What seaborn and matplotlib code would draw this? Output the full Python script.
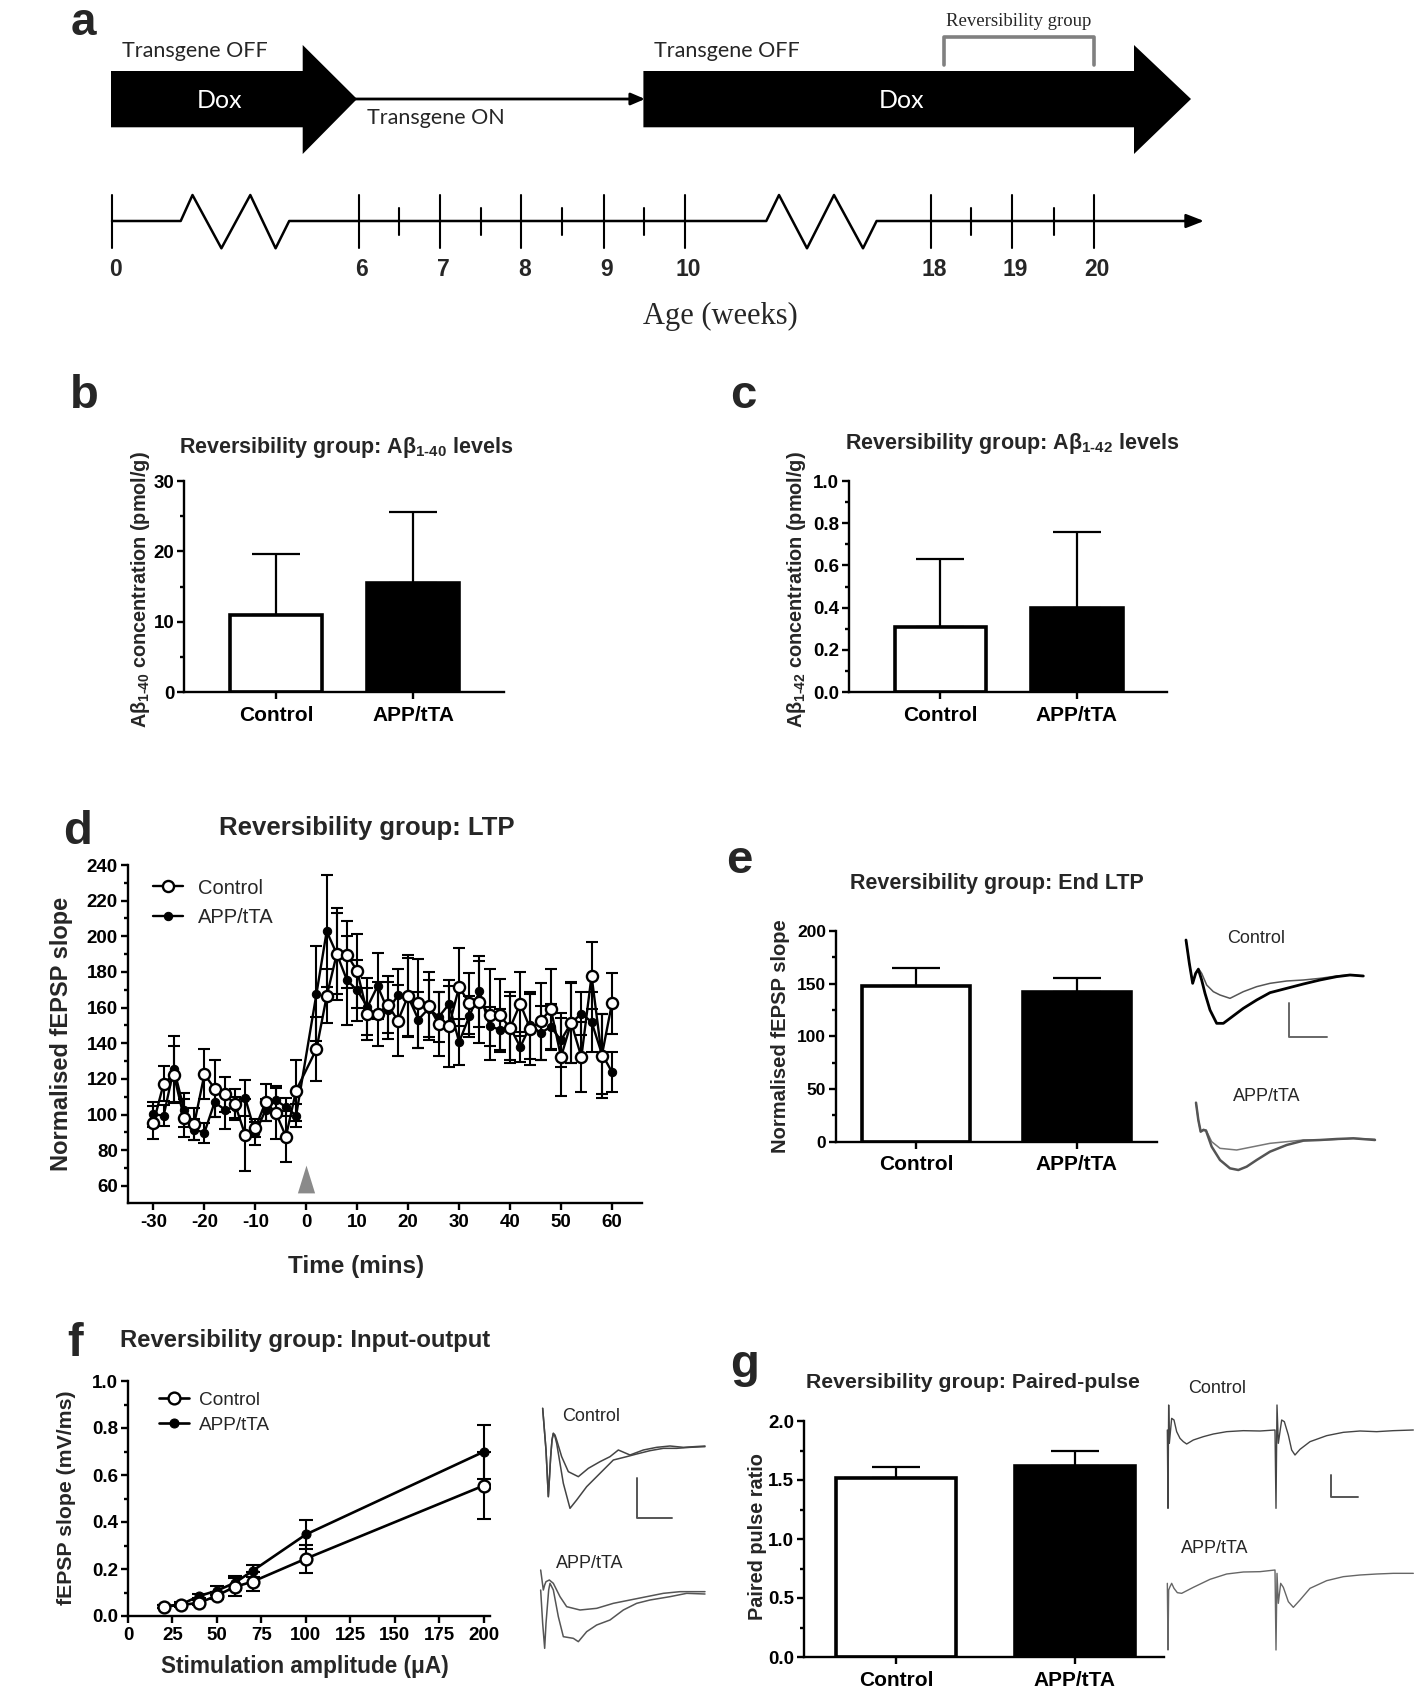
import matplotlib
matplotlib.use("Agg")
import matplotlib.pyplot as plt
import seaborn as sns
from matplotlib.patches import Polygon
from matplotlib.ticker import MultipleLocator, FormatStrFormatter

# ---------------- data ----------------
groups = ["Control", "APP/tTA"]

ab40_mean = [11.0, 15.5]
ab40_sem = [8.6, 10.1]

ab42_mean = [0.31, 0.40]
ab42_sem = [0.32, 0.36]

end_ltp_mean = [147.5, 142.2]
end_ltp_sem = [17.5, 12.9]

ppr_mean = [1.52, 1.62]
ppr_sem = [0.09, 0.13]

ltp_time = [-30, -28, -26, -24, -22, -20, -18, -16, -14, -12, -10, -8, -6, -4, -2,
            2, 4, 6, 8, 10, 12, 14, 16, 18, 20, 22, 24, 26, 28, 30,
            32, 34, 36, 38, 40, 42, 44, 46, 48, 50, 52, 54, 56, 58, 60]
ltp_ctrl = [95.5, 117.4, 122.4, 98.0, 94.8, 122.6, 114.6, 111.4, 105.8, 88.6, 92.5, 106.9, 101.1, 87.7, 113.5,
            136.8, 166.4, 190.3, 189.7, 180.4, 156.4, 156.3, 161.5, 152.7, 166.7, 162.4, 161.1, 150.8, 149.5, 171.6,
            162.4, 163.2, 156.1, 155.7, 148.6, 162.2, 147.9, 152.3, 159.3, 132.3, 151.6, 132.3, 177.9, 132.9, 162.4]
ltp_ctrl_sem = [9.3, 10.0, 16.0, 10.7, 9.0, 14.0, 16.0, 9.7, 8.6, 20.0, 5.0, 10.5, 15.0, 14.4, 17.0,
                18.0, 15.0, 22.6, 18.7, 20.7, 14.8, 18.0, 16.0, 20.0, 23.0, 25.0, 19.0, 18.0, 22.8, 21.9,
                17.0, 23.0, 25.6, 20.6, 18.0, 18.0, 20.0, 21.5, 22.6, 22.0, 22.8, 19.6, 18.9, 23.4, 17.0]
ltp_app = [100.2, 99.4, 125.8, 102.8, 91.6, 89.9, 106.9, 102.8, 104.0, 109.3, 89.5, 102.6, 108.0, 104.3, 99.4,
           167.9, 202.8, 190.0, 175.3, 169.7, 160.4, 172.1, 158.5, 166.9, 166.0, 153.3, 159.4, 154.8, 161.9, 140.7,
           155.1, 169.2, 149.5, 147.7, 149.0, 137.9, 150.0, 145.8, 149.2, 141.7, 151.4, 156.6, 152.0, 134.2, 123.9]
ltp_app_sem = [7.0, 6.0, 18.5, 9.5, 6.0, 5.6, 8.0, 10.7, 6.0, 10.0, 6.5, 6.0, 7.0, 5.0, 6.4,
               26.5, 31.4, 26.0, 25.0, 17.0, 16.0, 18.7, 16.0, 15.0, 22.0, 15.7, 16.0, 14.0, 13.5, 13.0,
               11.6, 20.0, 11.0, 11.6, 20.0, 8.4, 18.7, 15.0, 12.7, 15.0, 22.4, 12.0, 16.8, 22.4, 11.2]

io_amp = [20, 30, 40, 50, 60, 70, 100, 200]
io_ctrl = [0.04, 0.047, 0.056, 0.087, 0.124, 0.146, 0.244, 0.555]
io_ctrl_sem = [0.008, 0.008, 0.01, 0.015, 0.038, 0.04, 0.06, 0.144]
io_app = [0.04, 0.05, 0.085, 0.108, 0.141, 0.192, 0.347, 0.699]
io_app_sem = [0.006, 0.008, 0.01, 0.02, 0.03, 0.024, 0.06, 0.115]

# timeline (panel a)
age_weeks = ["0", "6", "7", "8", "9", "10", "18", "19", "20"]

# example traces (time, amplitude in picture units)
e_ctrl_base = [(48, 60), (58, 130), (68, 190), (77, 160), (85, 145), (95, 160), (110, 195), (130, 215), (150, 225),
               (180, 235), (220, 215), (260, 200), (300, 190), (350, 183), (400, 180), (450, 175), (500, 168),
               (540, 165), (580, 168)]
e_ctrl_ltp = [(48, 60), (58, 130), (68, 190), (77, 160), (85, 148), (95, 180), (105, 220), (120, 270), (140, 310),
              (160, 310), (180, 295), (220, 265), (260, 240), (300, 218), (350, 205), (400, 192), (450, 180),
              (500, 170), (540, 165), (580, 168)]
e_app_base = [(78, 548), (85, 600), (92, 635), (100, 628), (108, 630), (125, 665), (150, 685), (200, 690),
              (250, 680), (300, 670), (350, 665), (400, 660), (450, 660), (500, 658), (550, 655), (615, 658)]
e_app_ltp = [(78, 548), (85, 600), (92, 635), (100, 630), (108, 632), (125, 680), (150, 720), (180, 745),
             (205, 750), (230, 740), (260, 720), (300, 695), (350, 675), (400, 662), (450, 660), (500, 657),
             (550, 655), (615, 660)]

f_ctrl_low = [(38, 55), (44, 130), (48, 180), (52, 260), (55, 320), (58, 270), (62, 200), (66, 150), (70, 130),
              (75, 135), (80, 150), (95, 200), (115, 245), (145, 260), (175, 235), (210, 215), (240, 200),
              (265, 180), (300, 195), (340, 180), (380, 172), (420, 168), (460, 172), (525, 168)]
f_ctrl_high = [(38, 55), (44, 130), (48, 180), (52, 260), (55, 320), (58, 270), (62, 200), (66, 150), (70, 130),
               (75, 140), (80, 160), (90, 220), (100, 280), (120, 355), (140, 330), (170, 290), (210, 250),
               (250, 210), (290, 200), (320, 192), (360, 182), (400, 175), (440, 175), (480, 172), (525, 170)]
f_app_low = [(32, 540), (36, 570), (40, 600), (44, 585), (48, 575), (58, 570), (70, 580), (90, 620), (110, 650),
             (150, 660), (200, 655), (250, 640), (300, 630), (350, 620), (400, 610), (450, 605), (525, 605)]
f_app_high = [(32, 600), (38, 700), (44, 775), (48, 700), (52, 650), (56, 600), (60, 580), (70, 600), (85, 680),
              (100, 740), (130, 745), (145, 755), (170, 725), (200, 705), (240, 690), (280, 660), (320, 640),
              (360, 630), (420, 620), (470, 610), (525, 612)]

g_ctrl = [(22, 180), (24, 415), (26, 105), (28, 220), (35, 145), (42, 150), (50, 185), (60, 205), (70, 215),
          (80, 222), (100, 210), (130, 200), (160, 192), (200, 185), (250, 182), (300, 183), (345, 180),
          (348, 415), (351, 105), (355, 220), (365, 150), (373, 155), (385, 195), (395, 240), (405, 255),
          (420, 238), (450, 215), (500, 197), (550, 187), (600, 183), (650, 185), (700, 182), (760, 180)]
g_app = [(22, 640), (24, 840), (26, 660), (30, 650), (35, 640), (42, 655), (52, 668), (65, 670), (100, 652),
         (150, 628), (200, 612), (250, 606), (300, 605), (345, 600), (348, 840), (351, 610), (355, 700),
         (362, 640), (370, 652), (385, 695), (400, 712), (420, 690), (450, 655), (500, 632), (550, 620),
         (600, 615), (650, 612), (700, 610), (760, 610)]

# ---------------- style ----------------
sns.set_theme(style="ticks")
plt.rcParams.update({
    "font.family": ["Liberation Sans", "DejaVu Sans"],
    "font.weight": "bold",
    "axes.labelweight": "bold",
    "axes.unicode_minus": False,
    "axes.linewidth": 1.7,
    "xtick.major.width": 1.7, "ytick.major.width": 1.7,
    "ytick.minor.width": 1.7, "xtick.minor.width": 1.7,
    "xtick.major.size": 5, "ytick.major.size": 5, "ytick.minor.size": 3,
    "xtick.major.pad": 3, "ytick.major.pad": 2,
    "xtick.color": "black", "ytick.color": "black",
    "axes.edgecolor": "black",
    "mathtext.fontset": "custom",
    "mathtext.rm": "Liberation Sans:bold",
    "mathtext.bf": "Liberation Sans:bold",
    "mathtext.it": "Liberation Sans",
})

W, H = 1418, 1688
fig = plt.figure(figsize=(W / 100, H / 100), dpi=100)


def add_ax(l, t, r, b):
    return fig.add_axes([l / W, 1 - b / H, (r - l) / W, (b - t) / H])


def ftext(x, y, s, **kw):
    kw.setdefault("ha", "center")
    kw.setdefault("va", "center")
    fig.text(x / W, 1 - y / H, s, **kw)


def style_axis(ax, tick_fs):
    sns.despine(ax=ax)
    ax.tick_params(axis="both", which="both", direction="out", labelsize=tick_fs)
    for lab in ax.get_xticklabels() + ax.get_yticklabels():
        lab.set_fontweight("bold")


def bar_panel(ax, means, sems, ylim, step, minor, fmt, tick_fs, cat_fs, xlim):
    sns.barplot(x=groups, y=means, hue=groups, palette=["white", "black"], saturation=1,
                edgecolor="black", linewidth=2.6, width=0.67, legend=False, ax=ax, zorder=2)
    ax.errorbar([0, 1], means, yerr=[[0, 0], sems], fmt="none", ecolor="black",
                elinewidth=1.6, capsize=17, capthick=1.6, zorder=1)
    ax.set_ylim(*ylim)
    ax.set_xlim(*xlim)
    ax.yaxis.set_major_locator(MultipleLocator(step))
    ax.yaxis.set_minor_locator(MultipleLocator(minor))
    ax.yaxis.set_major_formatter(FormatStrFormatter(fmt))
    ax.set_xlabel("")
    ax.set_ylabel("")
    style_axis(ax, tick_fs)
    ax.tick_params(axis="x", labelsize=cat_fs, pad=5)


# ---------------- panel a: timeline ----------------
axa = add_ax(0, 0, W, 340)
axa.set_xlim(0, W)
axa.set_ylim(340, 0)
axa.axis("off")
for x0, xb, xt in [(111, 302.7, 357), (643.4, 1134, 1191)]:
    axa.add_patch(Polygon([(x0, 71), (xb, 71), (xb, 45), (xt, 99), (xb, 154), (xb, 127.3), (x0, 127.3)],
                          closed=True, fc="black", ec="none"))
axa.annotate("", xy=(645, 99), xytext=(355, 99),
             arrowprops=dict(arrowstyle="-|>,head_length=0.7,head_width=0.3", color="black", lw=2,
                             shrinkA=0, shrinkB=0))
ty = 221
axa.plot([112, 180.7, 192.5, 221.4, 250.3, 275.6, 289.2, 766.3, 779, 807, 834, 863, 876.6, 1190],
         [ty, ty, 195, 248.3, 195, 248.3, ty, ty, 195, 248.3, 195, 248.3, ty, ty], color="black", lw=1.8)
axa.annotate("", xy=(1204, ty), xytext=(1185, ty),
             arrowprops=dict(arrowstyle="-|>,head_length=0.9,head_width=0.35", color="black", lw=1.8,
                             shrinkA=0, shrinkB=0))
major_x = [112, 358.8, 440, 521.4, 603.6, 685, 930.8, 1012, 1094.3]
minor_x = [398.5, 480.8, 562, 644.3, 971.4, 1053.7]
for x in major_x:
    axa.plot([x, x], [195, 248.3], color="black", lw=1.5)
for x in minor_x:
    axa.plot([x, x], [208.3, 235], color="black", lw=1.5)
for x, lab in zip(major_x, age_weeks):
    axa.text(x + 3, 269, lab, ha="center", va="center", fontsize=16.5, fontweight="bold")
axa.text(720, 316, "Age (weeks)", ha="center", va="center", fontsize=22,
         fontfamily="Liberation Serif", fontweight="normal")
axa.text(195, 51, "Transgene OFF", ha="center", va="center", fontsize=15.5, fontfamily="Lato", fontweight="normal")
axa.text(727, 51, "Transgene OFF", ha="center", va="center", fontsize=15.5, fontfamily="Lato", fontweight="normal")
axa.text(436, 118, "Transgene ON", ha="center", va="center", fontsize=15.5, fontfamily="Lato", fontweight="normal")
axa.text(220, 100, "Dox", ha="center", va="center", fontsize=18, fontfamily="Lato", fontweight="normal",
         color="white")
axa.text(902, 100, "Dox", ha="center", va="center", fontsize=18, fontfamily="Lato", fontweight="normal",
         color="white")
axa.plot([944.3, 944.3, 1094.3, 1094.3], [65, 37.3, 37.3, 65], color="#808080", lw=2.6,
         solid_joinstyle="round")
axa.text(1019, 22, "Reversibility group", ha="center", va="center", fontsize=13.5,
         fontfamily="Liberation Serif", fontweight="normal")

# ---------------- panel b ----------------
axb = add_ax(184, 481, 504, 692)
bar_panel(axb, ab40_mean, ab40_sem, (0, 30), 10, 5, "%d", 13.5, 15, (-0.67, 1.66))
ftext(346, 447, r"Reversibility group: A$\beta_{\mathrm{1\text{-}40}}$ levels", fontsize=15.5, fontweight="bold")
ftext(141, 590, r"A$\beta_{\mathrm{1\text{-}40}}$ concentration (pmol/g)", fontsize=14.3, fontweight="bold",
      rotation=90)

# ---------------- panel c ----------------
axc = add_ax(849, 481, 1167, 692)
bar_panel(axc, ab42_mean, ab42_sem, (0, 1.0), 0.2, 0.1, "%.1f", 13.5, 15, (-0.67, 1.66))
ftext(1012, 443, r"Reversibility group: A$\beta_{\mathrm{1\text{-}42}}$ levels", fontsize=15.5, fontweight="bold")
ftext(796, 590, r"A$\beta_{\mathrm{1\text{-}42}}$ concentration (pmol/g)", fontsize=14.3, fontweight="bold",
      rotation=90)

# ---------------- panel d: LTP time course ----------------
axd = add_ax(127.5, 865, 642, 1203)
axd.errorbar(ltp_time, ltp_app, yerr=ltp_app_sem, fmt="none", ecolor="black", elinewidth=1.5,
             capsize=4.5, capthick=1.5, zorder=1)
axd.errorbar(ltp_time, ltp_ctrl, yerr=ltp_ctrl_sem, fmt="none", ecolor="black", elinewidth=1.5,
             capsize=4.5, capthick=1.5, zorder=1)
sns.lineplot(x=ltp_time, y=ltp_app, ax=axd, color="black", lw=1.7, marker="o", markersize=6,
             markerfacecolor="black", markeredgecolor="black", label="APP/tTA", zorder=2)
sns.lineplot(x=ltp_time, y=ltp_ctrl, ax=axd, color="black", lw=1.7, marker="o", markersize=8,
             markerfacecolor="white", markeredgecolor="black", markeredgewidth=1.7, label="Control", zorder=3)
axd.plot([0], [64], marker=[(-0.62, -1), (0.62, -1), (0, 1)], markersize=20, color="#8a8a8a",
         markeredgecolor="none", clip_on=False)
axd.set_xlim(-35.1, 65.9)
axd.set_ylim(50.4, 240)
axd.xaxis.set_major_locator(MultipleLocator(10))
axd.yaxis.set_major_locator(MultipleLocator(20))
axd.yaxis.set_minor_locator(MultipleLocator(10))
axd.set_xlabel("")
axd.set_ylabel("")
style_axis(axd, 13.5)
h, l = axd.get_legend_handles_labels()
axd.legend([h[1], h[0]], [l[1], l[0]], loc="upper left", bbox_to_anchor=(0.05, 0.96), frameon=False,
           borderpad=0, borderaxespad=0, handlelength=1.5, handletextpad=0.7, labelspacing=0.5,
           prop=dict(size=14.5, weight="normal"))
ftext(367, 828, "Reversibility group: LTP", fontsize=18.5, fontweight="bold")
ftext(62, 1034, "Normalised fEPSP slope", fontsize=17, fontweight="bold", rotation=90)
ftext(356, 1267, "Time (mins)", fontsize=17.5, fontweight="bold")

# ---------------- panel e ----------------
axe = add_ax(836, 931, 1157, 1141.5)
bar_panel(axe, end_ltp_mean, end_ltp_sem, (0, 200), 50, 25, "%d", 12.5, 15, (-0.5, 1.5))
ftext(997, 883, "Reversibility group: End LTP", fontsize=15.5, fontweight="bold")
ftext(781, 1036, "Normalised fEPSP slope", fontsize=14.5, fontweight="bold", rotation=90)

axe_tr = add_ax(1170, 920, 1400, 1180)
axe_tr.set_xlim(0, 690)
axe_tr.set_ylim(780, 0)
axe_tr.axis("off")
axe_tr.plot(*zip(*e_ctrl_base), color="#555555", lw=1.1)
axe_tr.plot(*zip(*e_ctrl_ltp), color="black", lw=2.0)
axe_tr.plot(*zip(*e_app_base), color="#777777", lw=1.1)
axe_tr.plot(*zip(*e_app_ltp), color="#555555", lw=1.8)
axe_tr.plot([358, 358, 470], [250, 352, 352], color="#666666", lw=1.4)
axe_tr.text(258, 55, "Control", ha="center", va="center", fontsize=13, fontweight="normal")
axe_tr.text(290, 530, "APP/tTA", ha="center", va="center", fontsize=13, fontweight="normal")

# ---------------- panel f: input-output ----------------
axf = add_ax(128, 1381, 490, 1616)
axf.errorbar(io_amp, io_app, yerr=io_app_sem, fmt="none", ecolor="black", elinewidth=1.5,
             capsize=5, capthick=1.5, zorder=1)
axf.errorbar(io_amp, io_ctrl, yerr=io_ctrl_sem, fmt="none", ecolor="black", elinewidth=1.5,
             capsize=5, capthick=1.5, zorder=1)
sns.lineplot(x=io_amp, y=io_app, ax=axf, color="black", lw=1.9, marker="o", markersize=6.5,
             markerfacecolor="black", markeredgecolor="black", label="APP/tTA", zorder=2)
sns.lineplot(x=io_amp, y=io_ctrl, ax=axf, color="black", lw=1.9, marker="o", markersize=8.5,
             markerfacecolor="white", markeredgecolor="black", markeredgewidth=1.7, label="Control", zorder=3)
axf.set_xlim(0, 203.5)
axf.set_ylim(0, 1.0)
axf.xaxis.set_major_locator(MultipleLocator(25))
axf.yaxis.set_major_locator(MultipleLocator(0.2))
axf.yaxis.set_minor_locator(MultipleLocator(0.1))
axf.yaxis.set_major_formatter(FormatStrFormatter("%.1f"))
axf.set_xlabel("")
axf.set_ylabel("")
style_axis(axf, 13.5)
h, l = axf.get_legend_handles_labels()
axf.legend([h[1], h[0]], [l[1], l[0]], loc="upper left", bbox_to_anchor=(0.085, 0.955), frameon=False,
           borderpad=0, borderaxespad=0, handlelength=1.6, handletextpad=0.5, labelspacing=0.4,
           prop=dict(size=13.7, weight="normal"))
ftext(305, 1340, "Reversibility group: Input-output", fontsize=17.2, fontweight="bold")
ftext(66, 1498, "fEPSP slope (mV/ms)", fontsize=15.3, fontweight="bold", rotation=90)
ftext(305, 1667, "Stimulation amplitude (\u03bcA)", fontsize=16.3, fontweight="bold")

axf_tr = add_ax(530, 1390, 720, 1660)
axf_tr.set_xlim(0, 570)
axf_tr.set_ylim(810, 0)
axf_tr.axis("off")
for tr in (f_ctrl_low, f_ctrl_high):
    axf_tr.plot(*zip(*tr), color="#444444", lw=1.1)
for tr in (f_app_low, f_app_high):
    axf_tr.plot(*zip(*tr), color="#555555", lw=1.1)
axf_tr.plot([320, 320, 425], [265, 383, 383], color="#555555", lw=1.4)
axf_tr.text(183, 80, "Control", ha="center", va="center", fontsize=13, fontweight="normal")
axf_tr.text(180, 520, "APP/tTA", ha="center", va="center", fontsize=13, fontweight="normal")

# ---------------- panel g ----------------
axg = add_ax(804, 1421, 1164, 1657)
bar_panel(axg, ppr_mean, ppr_sem, (0, 2.0), 0.5, 0.25, "%.1f", 13.5, 15, (-0.515, 1.5))
ftext(973, 1382, "Reversibility group: Paired-pulse", fontsize=15.3, fontweight="bold")
ftext(758, 1537, "Paired pulse ratio", fontsize=14.3, fontweight="bold", rotation=90)

axg_tr = add_ax(1160, 1370, 1418, 1688)
axg_tr.set_xlim(0, 774)
axg_tr.set_ylim(954, 0)
axg_tr.axis("off")
axg_tr.plot(*zip(*g_ctrl), color="#444444", lw=1.0)
axg_tr.plot(*zip(*g_app), color="#666666", lw=1.0)
axg_tr.plot([512, 512, 595], [315, 382, 382], color="#555555", lw=1.4)
axg_tr.text(172, 55, "Control", ha="center", va="center", fontsize=13, fontweight="normal")
axg_tr.text(165, 535, "APP/tTA", ha="center", va="center", fontsize=13, fontweight="normal")

# ---------------- panel letters ----------------
ftext(83, 1, "a", fontsize=33, fontweight="bold", va="top")
for lab, x, y in [("b", 84, 396), ("c", 743, 396), ("d", 78, 832),
                  ("e", 739, 861), ("f", 75, 1344), ("g", 745, 1365)]:
    ftext(x, y, lab, fontsize=34, fontweight="bold")

fig.savefig("out.png", dpi=100)
